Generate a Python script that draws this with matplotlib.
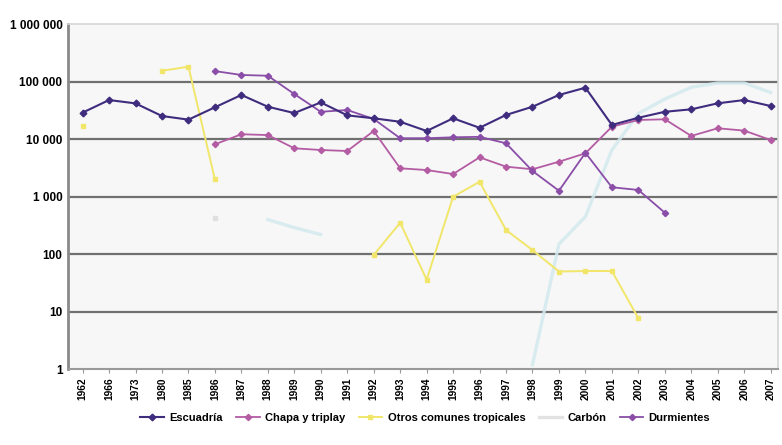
import numpy as np
import matplotlib
matplotlib.use("Agg")
import matplotlib.pyplot as plt
from matplotlib.lines import Line2D
from matplotlib.ticker import FixedLocator, NullLocator

nan = np.nan
years = ["1962", "1966", "1973", "1980", "1985", "1986", "1987", "1988", "1989",
         "1990", "1991", "1992", "1993", "1994", "1995", "1996", "1997", "1998",
         "1999", "2000", "2001", "2002", "2003", "2004", "2005", "2006", "2007"]

escuadria = [29000, 48000, 42000, 25300, 21900, 35900, 58800, 36700, 28500,
             43600, 26000, 23100, 20100, 13900, 23100, 15800, 26400, 36700,
             58800, 78700, 17700, 23600, 30000, 33100, 42100, 48000, 37800]

chapa = [nan, nan, nan, nan, nan, 8150, 12200, 11800, 6950,
         6490, 6240, 13900, 3120, 2910, 2480, 4840, 3330, 3000,
         4060, 5690, 16500, 21600, 22200, 11400, 15500, 14100, 9690]

otros = [17000, nan, nan, 155000, 182000, 2000, nan, nan, nan,
         nan, nan, 97, 353, 36, 1000, 1820, 264, 118,
         50, 51, 51, 7.7, nan, nan, nan, nan, nan]

carbon = [nan, nan, nan, nan, nan, 420, nan, 400, 290,
          220, nan, nan, nan, nan, nan, nan, nan, 1.2,
          150, 450, 6500, 28000, 50000, 80000, 95000, 95000, 65000]

durmientes = [nan, nan, nan, nan, nan, 153000, 131000, 127000, 61000,
              30000, 32200, 22500, 10400, 10400, 10800, 11000, 8490, 2800,
              1270, 5800, 1460, 1310, 527, nan, nan, nan, nan]

ytick_vals = [1, 10, 100, 1000, 10000, 100000, 1000000]
ytick_labels = ["1", "10", "100", "1 000", "10 000", "100 000", "1 000 000"]

series_names = ["Escuadría", "Chapa y triplay", "Otros comunes tropicales", "Carbón", "Durmientes"]

plt.rcParams['font.family'] = ['Liberation Sans', 'DejaVu Sans']

fig = plt.figure(figsize=(7.82, 4.45), dpi=100)
fig.patch.set_facecolor("white")
ax = fig.add_axes([0.087, 0.1703, 0.908, 0.7753])
ax.set_facecolor("#f7f7f7")

x = np.arange(len(years))

c_esc = "#3f2c7e"
c_chapa = "#b45ca3"
c_otros = "#f1e66a"
c_carb = "#d3e9ee"
c_durm = "#8a4ea8"

ax.plot(x, carbon, color=c_carb, lw=2.4, alpha=0.85, zorder=2,
        marker="s", ms=3, mec="#dddddd", mfc="#dddddd", markevery=[5])
ax.plot(x, otros, color=c_otros, lw=1.4, marker="s", ms=3.5, mec=c_otros, zorder=3)
ax.plot(x, chapa, color=c_chapa, lw=1.3, marker="D", ms=3.2, zorder=4)
ax.plot(x, durmientes, color=c_durm, lw=1.3, marker="D", ms=3.2, zorder=4)
ax.plot(x, escuadria, color=c_esc, lw=1.5, marker="D", ms=3.4, zorder=5)

ax.set_yscale("log")
ax.set_ylim(1, 1000000)
ax.set_xlim(-0.55, 26.28)

for v in [10, 100, 1000, 10000, 100000]:
    ax.axhline(v, color="#707070", lw=1.6, zorder=1)

ax.yaxis.set_major_locator(FixedLocator(ytick_vals))
ax.yaxis.set_minor_locator(NullLocator())
ax.set_yticklabels(ytick_labels, fontsize=8.5, fontweight="bold")
ax.tick_params(axis="y", length=0, pad=4)

ax.set_xticks(x)
ax.set_xticklabels(years, rotation=90, fontsize=7.3, fontweight="bold")
ax.tick_params(axis="x", length=3, color="#999999", pad=3)

for s in ["top", "right"]:
    ax.spines[s].set_color("#d6d6d6")
    ax.spines[s].set_linewidth(1.2)
ax.spines["left"].set_color("#8a8a8a")
ax.spines["left"].set_linewidth(2)
ax.spines["bottom"].set_color("#9a9a9a")
ax.spines["bottom"].set_linewidth(1.5)

handles = [
    Line2D([], [], color=c_esc, lw=1.5, marker="D", ms=3.4),
    Line2D([], [], color=c_chapa, lw=1.3, marker="D", ms=3.2),
    Line2D([], [], color=c_otros, lw=1.4, marker="s", ms=3.5),
    Line2D([], [], color="#e2e2e2", lw=2.4),
    Line2D([], [], color=c_durm, lw=1.3, marker="D", ms=3.2),
]
leg = fig.legend(handles, series_names, loc="center", bbox_to_anchor=(0.544, 0.0607),
                 ncol=5, frameon=False, handlelength=2.1, handletextpad=0.5,
                 columnspacing=1.2, prop={"weight": "bold", "size": 8})

fig.savefig("out.png", dpi=100)
